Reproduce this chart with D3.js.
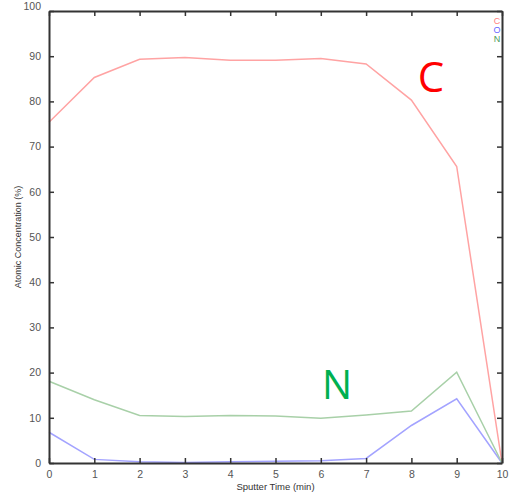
<!DOCTYPE html>
<html>
<head>
<meta charset="utf-8">
<script src="https://cdn.jsdelivr.net/npm/d3@7"></script>
<style>
  html, body { margin: 0; padding: 0; background: #fff; }
  svg { display: block; font-family: "Liberation Sans", Arial, sans-serif; }
</style>
</head>
<body>
<svg id="chart" width="514" height="494"></svg>
<script>
// Sputter time (min) and atomic concentration (%) per element
const times = [0, 1, 2, 3, 4, 5, 6, 7, 8, 9, 10];
const carbon = [75.4, 85.3, 89.3, 89.7, 89.1, 89.1, 89.5, 88.3, 80.3, 65.6, 0];
const oxygen = [6.8, 0.8, 0.3, 0.1, 0.3, 0.4, 0.5, 1.0, 8.3, 14.2, 0];
const nitrogen = [18.1, 14.0, 10.5, 10.3, 10.5, 10.4, 9.9, 10.6, 11.5, 20.1, 0];
const xTicks = [0, 1, 2, 3, 4, 5, 6, 7, 8, 9, 10];
const yTicks = [0, 10, 20, 30, 40, 50, 60, 70, 80, 90, 100];
const seriesNames = ["C", "O", "N"];

const series = [
  { name: "C", values: carbon, color: "#ffa3a3" },
  { name: "O", values: oxygen, color: "#a3a3ff" },
  { name: "N", values: nitrogen, color: "#a8d0a8" }
];

const svg = d3.select("#chart");
const plotLeft = 49, plotRight = 502, plotTop = 11, plotBottom = 463;

const x = d3.scaleLinear().domain([0, 10]).range([plotLeft, plotRight]);
const y = d3.scaleLinear().domain([0, 100]).range([plotBottom, plotTop]);

const line = d3.line()
  .x((d, i) => x(times[i]))
  .y(d => y(d));

// data lines
series.forEach(s => {
  svg.append("path")
    .datum(s.values)
    .attr("d", line)
    .attr("fill", "none")
    .attr("stroke", s.color)
    .attr("stroke-width", 1.5);
});

// axes with inward ticks on all four sides
const axisColor = "#333";
const tickLen = 5;

const gBottom = svg.append("g").attr("transform", `translate(0,${plotBottom})`)
  .call(d3.axisBottom(x).tickValues(xTicks).tickFormat(d3.format("d")).tickSizeInner(-tickLen).tickSizeOuter(0).tickPadding(8));
const gTop = svg.append("g").attr("transform", `translate(0,${plotTop})`)
  .call(d3.axisTop(x).tickValues(xTicks).tickFormat("").tickSizeInner(-tickLen).tickSizeOuter(0));
const gLeft = svg.append("g").attr("transform", `translate(${plotLeft},0)`)
  .call(d3.axisLeft(y).tickValues(yTicks).tickFormat(d3.format("d")).tickSizeInner(-tickLen).tickSizeOuter(0).tickPadding(8));
const gRight = svg.append("g").attr("transform", `translate(${plotRight},0)`)
  .call(d3.axisRight(y).tickValues(yTicks).tickFormat("").tickSizeInner(-tickLen).tickSizeOuter(0));

[gBottom, gTop, gLeft, gRight].forEach(g => {
  g.select(".domain").attr("stroke", axisColor).attr("stroke-width", 2);
  g.selectAll(".tick line").attr("stroke", axisColor).attr("stroke-width", 1.5);
  g.selectAll(".tick text").attr("fill", "#555").attr("font-size", 10.5);
});

// the topmost label sits a little above its tick, close to the page edge
gLeft.selectAll(".tick text").filter(d => d === 100).attr("dy", "-0.15em");

// axis titles
svg.append("text")
  .attr("x", (plotLeft + plotRight) / 2).attr("y", 490)
  .attr("text-anchor", "middle").attr("font-size", 9.5).attr("fill", "#333")
  .text("Sputter Time (min)");
svg.append("text")
  .attr("transform", `translate(21,${(plotTop + plotBottom) / 2}) rotate(-90)`)
  .attr("text-anchor", "middle").attr("font-size", 9).attr("fill", "#333")
  .text("Atomic Concentration (%)");

// small legend at top right
const legendColors = { C: "#ff8080", O: "#6868ff", N: "#4a9a5a" };
seriesNames.forEach((n, i) => {
  svg.append("text")
    .attr("x", 497).attr("y", 23.5 + i * 9)
    .attr("text-anchor", "middle").attr("font-size", 9)
    .attr("fill", legendColors[n])
    .text(n);
});

// element annotations
svg.append("text")
  .attr("x", 431).attr("y", 92)
  .attr("text-anchor", "middle").attr("font-size", 42)
  .attr("font-family", "'Open Sans', sans-serif")
  .attr("fill", "#ff0000")
  .text("C");
svg.append("text")
  .attr("x", 337).attr("y", 399)
  .attr("text-anchor", "middle").attr("font-size", 40)
  .attr("font-family", "'Open Sans', sans-serif")
  .attr("fill", "#00b050")
  .text("N");
</script>
</body>
</html>
